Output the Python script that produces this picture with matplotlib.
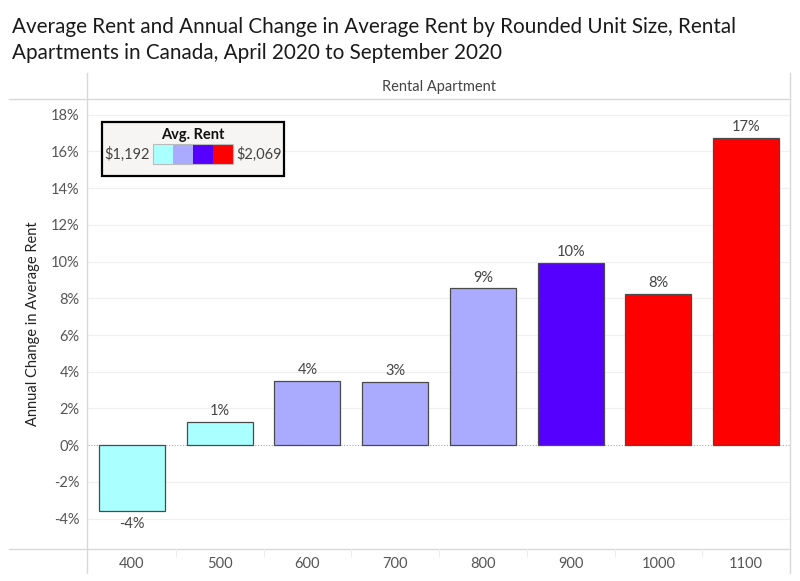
import matplotlib
matplotlib.use("Agg")
import matplotlib.pyplot as plt
from matplotlib.lines import Line2D
from matplotlib.patches import Rectangle
import numpy as np
import math

plt.rcParams['font.family'] = ['Lato', 'DejaVu Sans']

# ---- data ----
unit_sizes = ["400", "500", "600", "700", "800", "900", "1000", "1100"]
annual_change = [-3.58, 1.29, 3.52, 3.44, 8.55, 9.93, 8.24, 16.75]
bar_colors = ["#AAFFFF", "#AAFFFF", "#AAAAFF", "#AAAAFF", "#AAAAFF", "#5500FF", "#FF0000", "#FF0000"]
yticks = [-4, -2, 0, 2, 4, 6, 8, 10, 12, 14, 16, 18]
legend_colors = ["#AAFFFF", "#AAAAFF", "#5500FF", "#FF0000"]
legend_min = "$1,192"
legend_max = "$2,069"

W, H = 800, 581
fig = plt.figure(figsize=(W / 100, H / 100), dpi=100)

def fx(px):
    return px / W

def fy(py):
    return 1 - py / H

def rnd(v):
    return int(math.floor(abs(v) + 0.5)) * (1 if v >= 0 else -1)

ax_left, ax_right, ax_top, ax_bottom = 88, 790, 99, 549
ax = fig.add_axes([fx(ax_left), fy(ax_bottom), fx(ax_right - ax_left), (ax_bottom - ax_top) / H])

x = np.arange(len(unit_sizes))
ax.bar(x, annual_change, width=0.75, color=bar_colors, edgecolor="#4a4a4a", linewidth=0.9, zorder=3)
ax.set_xlim(-0.5, len(unit_sizes) - 0.5)
ax.set_ylim(-5.65, 18.85)

for xi, v in zip(x, annual_change):
    lab = f"{rnd(v)}%"
    if v >= 0:
        ax.text(xi, v + 0.2, lab, ha="center", va="bottom", fontsize=10.5, color="#444444")
    else:
        ax.text(xi, v - 0.35, lab, ha="center", va="top", fontsize=10.5, color="#444444")

ax.set_yticks(yticks)
ax.set_yticklabels([f"{t}%" for t in yticks], fontsize=10.5, color="#555555")
ax.set_xticks(x)
ax.set_xticklabels(unit_sizes, fontsize=10.5, color="#555555")
ax.tick_params(axis="both", length=0, pad=6)
ax.tick_params(axis="x", pad=6)
for t in yticks:
    if t == 0:
        ax.axhline(0, color="#aaaaaa", linewidth=0.8, linestyle=(0, (1, 1.5)), zorder=2)
    else:
        ax.axhline(t, color="#f0f0f0", linewidth=0.9, zorder=1)
for s in ax.spines.values():
    s.set_visible(False)
ax.set_ylabel("Annual Change in Average Rent", fontsize=10.5, color="#222222", labelpad=4)
ax.yaxis.set_label_coords(-0.068, 0.5)

# header strip
fig.text(fx((ax_left + ax_right) / 2), fy(87), "Rental Apartment", ha="center", va="center",
         fontsize=10.5, color="#444444")

# frame lines
lc = "#d9d9d9"
fig.add_artist(Line2D([fx(9), fx(790)], [fy(99), fy(99)], color=lc, linewidth=1.0))
fig.add_artist(Line2D([fx(9), fx(790)], [fy(549), fy(549)], color=lc, linewidth=1.0))
fig.add_artist(Line2D([fx(87), fx(87)], [fy(73), fy(573)], color=lc, linewidth=1.0))
fig.add_artist(Line2D([fx(790), fx(790)], [fy(73), fy(573)], color=lc, linewidth=1.0))
# faint separators below axis
for i in range(1, len(unit_sizes)):
    xp = ax_left + i * (ax_right - ax_left) / len(unit_sizes)
    fig.add_artist(Line2D([fx(xp), fx(xp)], [fy(549), fy(556)], color="#eeeeee", linewidth=0.8))

# title
fig.text(fx(12), fy(27), "Average Rent and Annual Change in Average Rent by Rounded Unit Size, Rental",
         ha="left", va="center", fontsize=14.9, color="#1a1a1a")
fig.text(fx(12), fy(53), "Apartments in Canada, April 2020 to September 2020",
         ha="left", va="center", fontsize=14.9, color="#1a1a1a")

# legend box
fig.add_artist(Rectangle((fx(102), fy(176)), fx(182), 54 / H, facecolor="#F7F5F3",
                         edgecolor="black", linewidth=1.6, transform=fig.transFigure, zorder=5))
fig.text(fx(193), fy(135), "Avg. Rent", ha="center", va="center", fontsize=10.5, color="#111111",
         fontweight="bold", zorder=6)
fig.text(fx(150), fy(154), legend_min, ha="right", va="center", fontsize=10.5, color="#444444", zorder=6)
fig.text(fx(236), fy(154), legend_max, ha="left", va="center", fontsize=10.5, color="#444444", zorder=6)
for i, c in enumerate(legend_colors):
    fig.add_artist(Rectangle((fx(153 + 20 * i), fy(164)), fx(20), 20 / H, facecolor=c,
                             edgecolor="none", transform=fig.transFigure, zorder=6))
fig.add_artist(Rectangle((fx(153), fy(164)), fx(80), 20 / H, facecolor="none",
                         edgecolor="#bbbbbb", linewidth=0.8, transform=fig.transFigure, zorder=7))

fig.savefig("out.png", dpi=100)
